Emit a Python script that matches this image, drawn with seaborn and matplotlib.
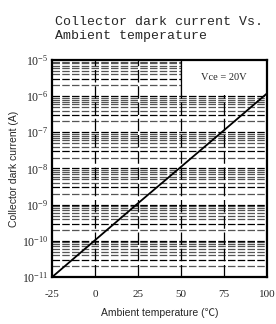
import numpy as np
import pandas as pd
import matplotlib
matplotlib.use('Agg')
import matplotlib.pyplot as plt
from matplotlib.patches import Rectangle
import seaborn as sns

# data
temps = [-25, 0, 25, 50, 75, 100]
dark_current = [1.0e-11, 1.05e-10, 1.1e-9, 1.12e-8, 1.15e-7, 1.2e-6]
x_ticks = [-25, 0, 25, 50, 75, 100]
y_ticks = [1e-11, 1e-10, 1e-9, 1e-8, 1e-7, 1e-6, 1e-5]
y_labels = ['$10^{-11}$', '$10^{-10}$', '$10^{-9}$', '$10^{-8}$', '$10^{-7}$', '$10^{-6}$', '$10^{-5}$']

df = pd.DataFrame({'temp': temps, 'current': dark_current})

sns.set_style('white')
plt.rcParams['mathtext.fontset'] = 'custom'
plt.rcParams['mathtext.rm'] = 'Liberation Serif'
plt.rcParams['mathtext.it'] = 'Liberation Serif'

fig = plt.figure(figsize=(2.76, 3.24), dpi=100)
ax = fig.add_axes([0.189, 0.145, 0.779, 0.670])

ax.set_yscale('log')
ax.set_xlim(-25, 100)
ax.set_ylim(1e-11, 1e-5)

# horizontal grid: dashed lines at each decade and sub-decade
for dec in range(-11, -5):
    for m in range(1, 10):
        v = m * 10.0 ** dec
        if v >= 1e-5 or v <= 1e-11:
            continue
        col = 'black' if m in (1, 3) else '#555555'
        ax.axhline(v, color=col, lw=0.9, dashes=(6, 1.8), zorder=1)
for xv in [0, 25, 50, 75]:
    ax.axvline(xv, color='black', lw=0.9, dashes=(10, 3), zorder=1)

# white box for the condition label
ax.add_patch(Rectangle((50, 1.1e-6), 50, 1e-5 - 1.1e-6, facecolor='white',
                       edgecolor='none', zorder=2))
ax.plot([50, 50], [1.1e-6, 1e-5], color='black', lw=0.9, zorder=2)
ax.text(75, 3.3e-6, 'Vce = 20V', ha='center', va='center', fontsize=7.5,
        family='Liberation Serif', zorder=3)

sns.lineplot(data=df, x='temp', y='current', color='black', lw=1.3, ax=ax, zorder=4)

ax.set_xticks(x_ticks)
ax.set_xticklabels([str(t) for t in x_ticks], family='Liberation Serif', fontsize=8)
ax.set_yticks(y_ticks)
ax.set_yticklabels(y_labels, fontsize=8.5)
ax.minorticks_off()
ax.tick_params(axis='x', length=0, pad=9)
ax.tick_params(axis='y', length=0, pad=3)

for s in ax.spines.values():
    s.set_visible(True)
    s.set_linewidth(1.6)
    s.set_color('black')

ax.set_xlabel('Ambient temperature (\u2103)', fontsize=7.5,
              family=['Liberation Sans', 'Noto Sans CJK SC', 'DejaVu Sans'], labelpad=7)
ax.set_ylabel('Collector dark current (A)', fontsize=7.5, family='Liberation Sans', labelpad=2)

fig.text(0.20, 0.91, 'Collector dark current Vs.\nAmbient temperature',
         fontsize=9.5, family='Liberation Mono', ha='left', va='center', linespacing=1.2)

fig.savefig('out.png', dpi=100)
